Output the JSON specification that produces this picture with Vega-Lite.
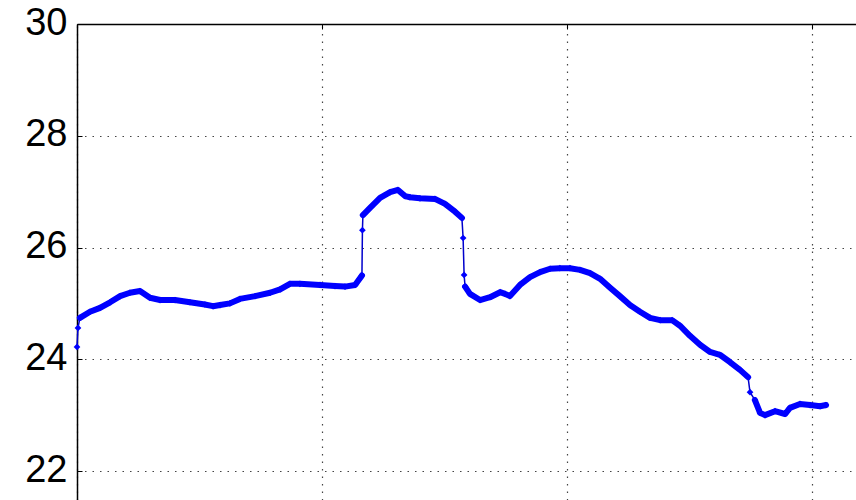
{
  "$schema": "https://vega.github.io/schema/vega-lite/v6.json",
  "width": 779,
  "height": 476,
  "autosize": {"type": "none"},
  "padding": {"left": 77, "top": 24, "right": 0, "bottom": 0},
  "background": "white",
  "config": {"view": {"stroke": null}},
  "data": {"values": [
    {"t": 0.0, "temp": 24.22, "seg": "x"}, {"t": 0.004, "temp": 24.56, "seg": "x"}, {"t": 0.012, "temp": 24.74, "seg": "a"},
    {"t": 0.053, "temp": 24.85, "seg": "a"}, {"t": 0.094, "temp": 24.92, "seg": "a"}, {"t": 0.135, "temp": 25.02, "seg": "a"},
    {"t": 0.176, "temp": 25.13, "seg": "a"}, {"t": 0.216, "temp": 25.19, "seg": "a"}, {"t": 0.257, "temp": 25.22, "seg": "a"},
    {"t": 0.298, "temp": 25.1, "seg": "a"}, {"t": 0.339, "temp": 25.06, "seg": "a"}, {"t": 0.4, "temp": 25.06, "seg": "a"},
    {"t": 0.461, "temp": 25.02, "seg": "a"}, {"t": 0.522, "temp": 24.98, "seg": "a"}, {"t": 0.555, "temp": 24.95, "seg": "a"},
    {"t": 0.584, "temp": 24.97, "seg": "a"}, {"t": 0.624, "temp": 25.0, "seg": "a"}, {"t": 0.665, "temp": 25.08, "seg": "a"},
    {"t": 0.727, "temp": 25.13, "seg": "a"}, {"t": 0.788, "temp": 25.19, "seg": "a"}, {"t": 0.829, "temp": 25.25, "seg": "a"},
    {"t": 0.869, "temp": 25.35, "seg": "a"}, {"t": 0.91, "temp": 25.35, "seg": "a"}, {"t": 0.992, "temp": 25.33, "seg": "a"},
    {"t": 1.053, "temp": 25.31, "seg": "a"}, {"t": 1.094, "temp": 25.3, "seg": "a"}, {"t": 1.135, "temp": 25.33, "seg": "a"},
    {"t": 1.155, "temp": 25.45, "seg": "a"}, {"t": 1.163, "temp": 25.5, "seg": "a"}, {"t": 1.165, "temp": 26.31, "seg": "x"},
    {"t": 1.167, "temp": 26.58, "seg": "b"}, {"t": 1.196, "temp": 26.71, "seg": "b"}, {"t": 1.237, "temp": 26.89, "seg": "b"},
    {"t": 1.278, "temp": 26.99, "seg": "b"}, {"t": 1.31, "temp": 27.03, "seg": "b"}, {"t": 1.339, "temp": 26.92, "seg": "b"},
    {"t": 1.359, "temp": 26.9, "seg": "b"}, {"t": 1.4, "temp": 26.88, "seg": "b"}, {"t": 1.461, "temp": 26.87, "seg": "b"},
    {"t": 1.502, "temp": 26.78, "seg": "b"}, {"t": 1.543, "temp": 26.64, "seg": "b"}, {"t": 1.571, "temp": 26.53, "seg": "b"},
    {"t": 1.576, "temp": 26.17, "seg": "x"}, {"t": 1.58, "temp": 25.51, "seg": "x"}, {"t": 1.584, "temp": 25.3, "seg": "c"},
    {"t": 1.604, "temp": 25.17, "seg": "c"}, {"t": 1.645, "temp": 25.06, "seg": "c"}, {"t": 1.686, "temp": 25.11, "seg": "c"},
    {"t": 1.727, "temp": 25.2, "seg": "c"}, {"t": 1.747, "temp": 25.17, "seg": "c"}, {"t": 1.767, "temp": 25.13, "seg": "c"},
    {"t": 1.808, "temp": 25.33, "seg": "c"}, {"t": 1.849, "temp": 25.47, "seg": "c"}, {"t": 1.89, "temp": 25.56, "seg": "c"},
    {"t": 1.931, "temp": 25.62, "seg": "c"}, {"t": 1.971, "temp": 25.63, "seg": "c"}, {"t": 2.012, "temp": 25.63, "seg": "c"},
    {"t": 2.053, "temp": 25.6, "seg": "c"}, {"t": 2.094, "temp": 25.54, "seg": "c"}, {"t": 2.135, "temp": 25.44, "seg": "c"},
    {"t": 2.176, "temp": 25.28, "seg": "c"}, {"t": 2.216, "temp": 25.13, "seg": "c"}, {"t": 2.257, "temp": 24.97, "seg": "c"},
    {"t": 2.298, "temp": 24.85, "seg": "c"}, {"t": 2.339, "temp": 24.74, "seg": "c"}, {"t": 2.38, "temp": 24.7, "seg": "c"},
    {"t": 2.429, "temp": 24.7, "seg": "c"}, {"t": 2.461, "temp": 24.6, "seg": "c"}, {"t": 2.502, "temp": 24.42, "seg": "c"},
    {"t": 2.543, "temp": 24.26, "seg": "c"}, {"t": 2.584, "temp": 24.13, "seg": "c"}, {"t": 2.624, "temp": 24.08, "seg": "c"},
    {"t": 2.665, "temp": 23.95, "seg": "c"}, {"t": 2.706, "temp": 23.81, "seg": "c"}, {"t": 2.739, "temp": 23.68, "seg": "c"},
    {"t": 2.747, "temp": 23.41, "seg": "x"}, {"t": 2.767, "temp": 23.27, "seg": "d"}, {"t": 2.788, "temp": 23.04, "seg": "d"},
    {"t": 2.808, "temp": 23.0, "seg": "d"}, {"t": 2.849, "temp": 23.07, "seg": "d"}, {"t": 2.89, "temp": 23.02, "seg": "d"},
    {"t": 2.91, "temp": 23.13, "seg": "d"}, {"t": 2.951, "temp": 23.2, "seg": "d"}, {"t": 2.992, "temp": 23.18, "seg": "d"},
    {"t": 3.033, "temp": 23.16, "seg": "d"}, {"t": 3.057, "temp": 23.18, "seg": "d"}
  ]},
  "encoding": {
    "x": {
      "field": "t", "type": "quantitative",
      "scale": {"domain": [0, 3.1796], "nice": false, "zero": false},
      "axis": {
        "orient": "top", "title": null, "labels": false,
        "values": [0, 1, 2, 3],
        "tickSize": -5, "tickColor": "black", "tickWidth": 1,
        "domainColor": "black", "domainWidth": 1.5,
        "grid": true, "gridColor": "#444", "gridDash": [1.5, 6], "gridWidth": 1.2
      }
    },
    "y": {
      "field": "temp", "type": "quantitative",
      "scale": {"domain": [21.481, 30], "nice": false, "zero": false},
      "axis": {
        "title": null, "values": [22, 24, 26, 28, 30],
        "tickSize": -5, "tickColor": "black",
        "domainColor": "black", "domainWidth": 1.5,
        "labelFont": "Liberation Sans", "labelFontSize": 38, "labelColor": "black",
        "labelPadding": 15, "labelBaseline": "middle", "labelOffset": -1,
        "grid": true, "gridColor": "#444", "gridDash": [1.5, 6], "gridWidth": 1.2
      }
    }
  },
  "layer": [
    {"mark": {"type": "line", "color": "#0000cc", "strokeWidth": 1.5}},
    {
      "transform": [{"filter": "datum.seg != 'x'"}],
      "mark": {"type": "line", "color": "#0000ff", "strokeWidth": 6, "strokeJoin": "round", "strokeCap": "round"},
      "encoding": {"detail": {"field": "seg"}}
    },
    {"mark": {"type": "point", "shape": "diamond", "filled": true, "color": "#0000ff", "size": 45, "opacity": 1}}
  ]
}
